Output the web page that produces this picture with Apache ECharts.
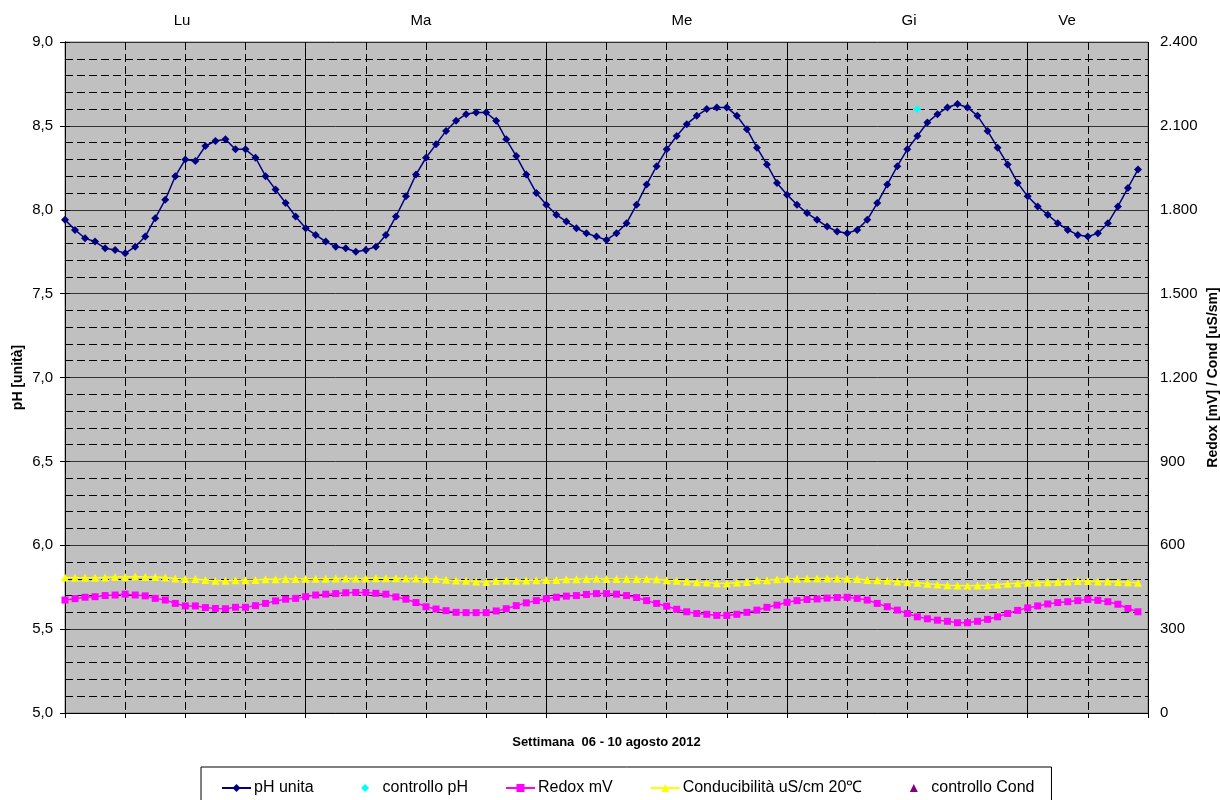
<!DOCTYPE html>
<html>
<head>
<meta charset="utf-8">
<script src="https://cdn.jsdelivr.net/npm/echarts@6/dist/echarts.min.js"></script>
<style>
html,body{margin:0;padding:0;background:#fff;}
#chart{width:1220px;height:800px;}
</style>
</head>
<body>
<div id="chart"></div>
<script>
// ---- data ----
const dayLabels = ['Lu', 'Ma', 'Me', 'Gi', 'Ve'];
const xAxisTitle = 'Settimana  06 - 10 agosto 2012';
const leftAxisTitle = 'pH [unità]';
const rightAxisTitle = 'Redox [mV] / Cond [uS/sm]';
const seriesNames = ['pH unita', 'controllo pH', 'Redox mV', 'Conducibilità uS/cm 20℃', 'controllo Cond'];

// hourly readings (index = hour since Monday 00:00)
const phValues = [
  7.94, 7.88, 7.83, 7.81, 7.77, 7.76, 7.74, 7.78, 7.84, 7.95,
  8.06, 8.20, 8.30, 8.29, 8.38, 8.41, 8.42, 8.36, 8.36, 8.31,
  8.20, 8.12, 8.04, 7.96, 7.89, 7.85, 7.81, 7.78, 7.77, 7.75,
  7.76, 7.78, 7.85, 7.96, 8.08, 8.21, 8.31, 8.39, 8.47, 8.53,
  8.57, 8.58, 8.58, 8.53, 8.42, 8.32, 8.21, 8.10, 8.03, 7.97,
  7.93, 7.89, 7.86, 7.84, 7.82, 7.86, 7.92, 8.03, 8.15, 8.26,
  8.36, 8.44, 8.51, 8.56, 8.60, 8.61, 8.61, 8.56, 8.48, 8.37,
  8.27, 8.16, 8.09, 8.03, 7.98, 7.94, 7.90, 7.87, 7.86, 7.88,
  7.94, 8.04, 8.15, 8.26, 8.36, 8.44, 8.52, 8.57, 8.61, 8.63,
  8.61, 8.56, 8.47, 8.37, 8.27, 8.16, 8.08, 8.02, 7.97, 7.92,
  7.88, 7.85, 7.84, 7.86, 7.92, 8.02, 8.13, 8.24
];
const phControl = [[85, 8.6]];
const redoxValues = [
  404, 409, 414, 416, 420, 422, 425, 422, 419, 410,
  404, 392, 383, 383, 377, 374, 373, 378, 378, 384,
  392, 401, 407, 410, 416, 422, 425, 427, 430, 431,
  431, 428, 425, 415, 407, 395, 380, 372, 366, 360,
  359, 359, 359, 365, 373, 384, 394, 402, 409, 414,
  418, 420, 424, 427, 427, 425, 420, 413, 402, 392,
  382, 371, 362, 356, 353, 349, 349, 353, 360, 368,
  378, 386, 396, 402, 406, 408, 411, 413, 414, 410,
  404, 392, 380, 368, 356, 344, 337, 332, 328, 323,
  323, 328, 335, 344, 356, 367, 376, 383, 390, 395,
  398, 402, 406, 403, 398, 389, 374, 362
];
const condValues = [
  485, 484, 484, 484, 485, 486, 486, 488, 486, 486,
  485, 481, 479, 479, 476, 473, 473, 475, 475, 476,
  478, 478, 479, 479, 480, 480, 480, 481, 481, 481,
  481, 482, 482, 482, 481, 481, 479, 479, 477, 474,
  473, 470, 469, 472, 474, 473, 474, 475, 476, 476,
  478, 478, 479, 480, 479, 479, 479, 479, 479, 478,
  475, 473, 470, 468, 467, 464, 463, 467, 469, 475,
  475, 478, 480, 480, 481, 481, 481, 481, 480, 479,
  476, 475, 473, 470, 468, 466, 462, 460, 457, 456,
  455, 456, 457, 460, 462, 464, 466, 467, 468, 469,
  470, 472, 472, 470, 470, 469, 468, 466
];
const condControl = [];

// ---- layout (not data) ----
const dayLabelX = [182, 421, 682, 909, 1067];

const toPairs = arr => arr.map((v, i) => [i, v]);
const dash = [8, 4];

const chart = echarts.init(document.getElementById('chart'), null, {renderer: 'canvas'});
const font = 'Liberation Sans, Arial, sans-serif';

const option = {
  animation: false,
  backgroundColor: '#ffffff',
  textStyle: {fontFamily: font, color: '#000'},
  grid: {
    left: 65, right: 72, top: 42, bottom: 87,
    outerBoundsMode: 'none', containLabel: false,
    show: true, backgroundColor: '#C0C0C0', borderColor: '#808080', borderWidth: 1
  },
  legend: {
    top: 767, left: 201,
    padding: [13, 17, 8, 20],
    borderColor: '#000', borderWidth: 1,
    itemGap: 37, itemWidth: 29, itemHeight: 10,
    textStyle: {fontFamily: font, fontSize: 16, color: '#000', padding: [0, 0, 0, -2]},
    data: seriesNames
  },
  xAxis: [
    {
      type: 'value', min: 0, max: 108, interval: 6, position: 'bottom',
      name: xAxisTitle, nameLocation: 'middle', nameGap: 23,
      nameTextStyle: {fontFamily: font, fontSize: 13, fontWeight: 'bold', color: '#000'},
      axisLine: {show: true, onZero: false, lineStyle: {color: '#000', width: 1}},
      axisTick: {show: true, length: 5, lineStyle: {color: '#000'}},
      axisLabel: {show: false},
      splitLine: {show: true, lineStyle: {color: '#000', width: 1, type: dash}}
    },
    {
      type: 'value', min: 0, max: 108, interval: 24, position: 'top',
      axisLine: {show: false}, axisTick: {show: false}, axisLabel: {show: false},
      splitLine: {show: true, lineStyle: {color: '#000', width: 1, type: 'solid'}}
    }
  ],
  yAxis: [
    {
      type: 'value', min: 5, max: 9, interval: 0.5, position: 'left',
      name: leftAxisTitle, nameLocation: 'middle', nameRotate: 90, nameGap: 40,
      nameMoveOverlap: false,
      nameTextStyle: {fontFamily: font, fontSize: 14, fontWeight: 'bold', color: '#000'},
      axisLine: {show: true, lineStyle: {color: '#000'}},
      axisTick: {show: true, length: 5, lineStyle: {color: '#000'}},
      axisLabel: {fontFamily: font, fontSize: 15, color: '#000', margin: 12,
        formatter: v => v.toFixed(1).replace('.', ',')},
      splitLine: {show: true, lineStyle: {color: '#333', width: 1}},
      minorTick: {show: false, splitNumber: 5},
      minorSplitLine: {show: true, lineStyle: {color: '#000', width: 1, type: dash}}
    },
    {
      type: 'value', min: 0, max: 2400, interval: 300, position: 'right',
      name: rightAxisTitle, nameLocation: 'middle', nameRotate: 90, nameGap: 58,
      nameMoveOverlap: false,
      nameTextStyle: {fontFamily: font, fontSize: 14, fontWeight: 'bold', color: '#000'},
      axisLine: {show: true, lineStyle: {color: '#000'}},
      axisTick: {show: true, length: 5, lineStyle: {color: '#000'}},
      axisLabel: {fontFamily: font, fontSize: 15, color: '#000', margin: 12,
        formatter: v => String(v).replace(/\B(?=(\d{3})+(?!\d))/g, '.')},
      splitLine: {show: false}
    }
  ],
  series: [
    {
      name: seriesNames[0], type: 'line', xAxisIndex: 0, yAxisIndex: 0,
      data: toPairs(phValues), symbol: 'diamond', symbolSize: 8,
      itemStyle: {color: '#000080'}, lineStyle: {color: '#000080', width: 1.5}, z: 5
    },
    {
      name: seriesNames[1], type: 'line', xAxisIndex: 0, yAxisIndex: 0,
      data: phControl, symbol: 'diamond', symbolSize: 8, showSymbol: true,
      itemStyle: {color: '#00FFFF'}, lineStyle: {width: 0, opacity: 0}, z: 6
    },
    {
      name: seriesNames[2], type: 'line', xAxisIndex: 0, yAxisIndex: 1,
      data: toPairs(redoxValues), symbol: 'rect', symbolSize: 7,
      itemStyle: {color: '#FF00FF'}, lineStyle: {color: '#FF00FF', width: 1.5}, z: 4
    },
    {
      name: seriesNames[3], type: 'line', xAxisIndex: 0, yAxisIndex: 1,
      data: toPairs(condValues), symbol: 'triangle', symbolSize: 8,
      itemStyle: {color: '#FFFF00'}, lineStyle: {color: '#FFFF00', width: 1.5}, z: 4
    },
    {
      name: seriesNames[4], type: 'line', xAxisIndex: 0, yAxisIndex: 1,
      data: condControl, symbol: 'triangle', symbolSize: 9,
      itemStyle: {color: '#800080'}, lineStyle: {width: 0, opacity: 0}, z: 6
    }
  ],
  graphic: dayLabels.map((t, i) => ({
    type: 'text', x: dayLabelX[i], y: 21,
    style: {text: t, fill: '#000', font: '15px ' + font, align: 'center', verticalAlign: 'middle'}
  }))
};
chart.setOption(option);
</script>
</body>
</html>
